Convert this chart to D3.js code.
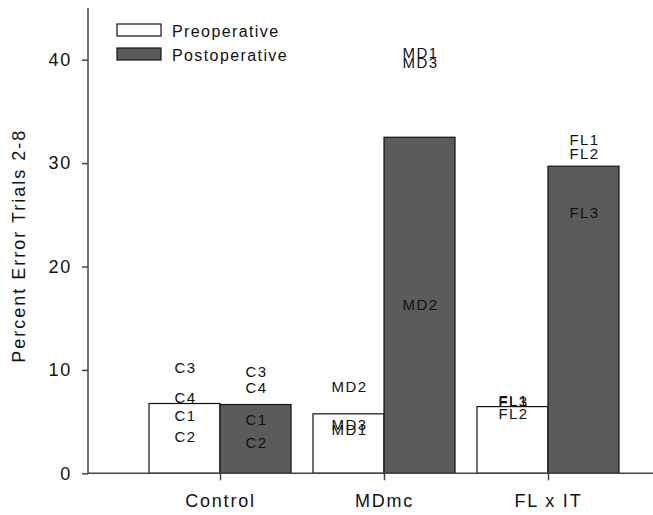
<!DOCTYPE html>
<html>
<head>
<meta charset="utf-8">
<script src="https://cdn.jsdelivr.net/npm/d3@7"></script>
<style>
  body { margin: 0; background: #fff; }
  svg { display: block; font-family: "Liberation Sans", Arial, sans-serif; }
</style>
</head>
<body>
<div id="chart"></div>
<script>
// groups and series
const groups = ["Control", "MDmc", "FL x IT"];
const seriesNames = ["Preoperative", "Postoperative"];
const preValues = [6.75, 5.75, 6.45];
const postValues = [6.65, 32.5, 29.7];
const yTicks = [0, 10, 20, 30, 40];

// individual subject labels: [group, series, name, value]
const subjectLabels = [
  ["Control", "Preoperative", "C3", 10.2],
  ["Control", "Preoperative", "C4", 7.3],
  ["Control", "Preoperative", "C1", 5.6],
  ["Control", "Preoperative", "C2", 3.55],
  ["Control", "Postoperative", "C3", 9.8],
  ["Control", "Postoperative", "C4", 8.3],
  ["Control", "Postoperative", "C1", 5.15],
  ["Control", "Postoperative", "C2", 2.95],
  ["MDmc", "Preoperative", "MD2", 8.4],
  ["MDmc", "Preoperative", "MD3", 4.7],
  ["MDmc", "Preoperative", "MD1", 4.2],
  ["MDmc", "Postoperative", "MD1", 40.7],
  ["MDmc", "Postoperative", "MD3", 39.7],
  ["MDmc", "Postoperative", "MD2", 16.3],
  ["FL x IT", "Preoperative", "FL1", 7.0],
  ["FL x IT", "Preoperative", "FL3", 6.9],
  ["FL x IT", "Preoperative", "FL2", 5.8],
  ["FL x IT", "Postoperative", "FL1", 32.3],
  ["FL x IT", "Postoperative", "FL2", 30.9],
  ["FL x IT", "Postoperative", "FL3", 25.2]
];

const width = 653, height = 515;
const x0 = 88, y0 = 473.3;

const svg = d3.select("#chart").append("svg")
    .attr("width", width)
    .attr("height", height);

const xScale = d3.scalePoint()
    .domain(groups)
    .range([x0, 680])
    .padding(0.805);

const barW = 71;
const sub = d3.scaleOrdinal()
    .domain(seriesNames)
    .range([-barW, 0]);

const yScale = d3.scaleLinear()
    .domain([0, 45])
    .range([y0, 8]);

const fills = d3.scaleOrdinal()
    .domain(seriesNames)
    .range(["#ffffff", "#5b5b5b"]);

const bars = [];
groups.forEach(function(g, i) {
  bars.push({group: g, series: "Preoperative", value: preValues[i]});
  bars.push({group: g, series: "Postoperative", value: postValues[i]});
});

svg.selectAll(".bar")
    .data(bars)
    .enter().append("rect")
    .attr("class", "bar")
    .attr("x", d => xScale(d.group) + sub(d.series))
    .attr("y", d => yScale(d.value))
    .attr("width", barW)
    .attr("height", d => y0 - yScale(d.value))
    .attr("fill", d => fills(d.series))
    .attr("stroke", "#111")
    .attr("stroke-width", 1.2);

// subject labels
svg.selectAll(".lab")
    .data(subjectLabels)
    .enter().append("text")
    .attr("class", "lab")
    .attr("x", d => xScale(d[0]) + sub(d[1]) + barW / 2 + 1)
    .attr("y", d => yScale(d[3]))
    .attr("dy", "0.36em")
    .attr("text-anchor", "middle")
    .attr("font-size", 15)
    .attr("letter-spacing", "1.4px")
    .attr("fill", "#111")
    .text(d => d[2]);

// y axis
const yAxis = svg.append("g")
    .attr("transform", "translate(" + x0 + ",0)")
    .call(d3.axisLeft(yScale).tickValues(yTicks).tickSize(6).tickPadding(10));
yAxis.select(".domain").attr("d", "M0," + yScale(45) + "V" + y0);
yAxis.selectAll("text").attr("font-size", 18).attr("letter-spacing", "1.8px").attr("fill", "#111");

// x axis
const xAxis = svg.append("g")
    .attr("transform", "translate(0," + y0 + ")")
    .call(d3.axisBottom(xScale).tickSize(7).tickPadding(14));
xAxis.select(".domain").attr("d", "M" + x0 + ",0H" + width);
xAxis.selectAll("text").attr("font-size", 18).attr("letter-spacing", "1.8px").attr("fill", "#111");

svg.selectAll(".domain, .tick line")
    .attr("stroke", "#444")
    .attr("stroke-width", 1.5);

// y title
svg.append("text")
    .attr("transform", "translate(25," + (yScale(22.5) + 5) + ") rotate(-90)")
    .attr("text-anchor", "middle")
    .attr("font-size", 18)
    .attr("letter-spacing", "2px")
    .attr("fill", "#111")
    .text("Percent Error Trials 2-8");

// legend
const legend = svg.selectAll(".legend")
    .data(seriesNames)
    .enter().append("g")
    .attr("class", "legend")
    .attr("transform", (d, i) => "translate(117," + (24 + i * 24) + ")");
legend.append("rect")
    .attr("width", 44)
    .attr("height", 12)
    .attr("fill", d => fills(d))
    .attr("stroke", "#111")
    .attr("stroke-width", 1.2);
legend.append("text")
    .attr("x", 55)
    .attr("y", 12.5)
    .attr("font-size", 16)
    .attr("letter-spacing", "1.4px")
    .attr("fill", "#111")
    .text(d => d);
</script>
</body>
</html>
